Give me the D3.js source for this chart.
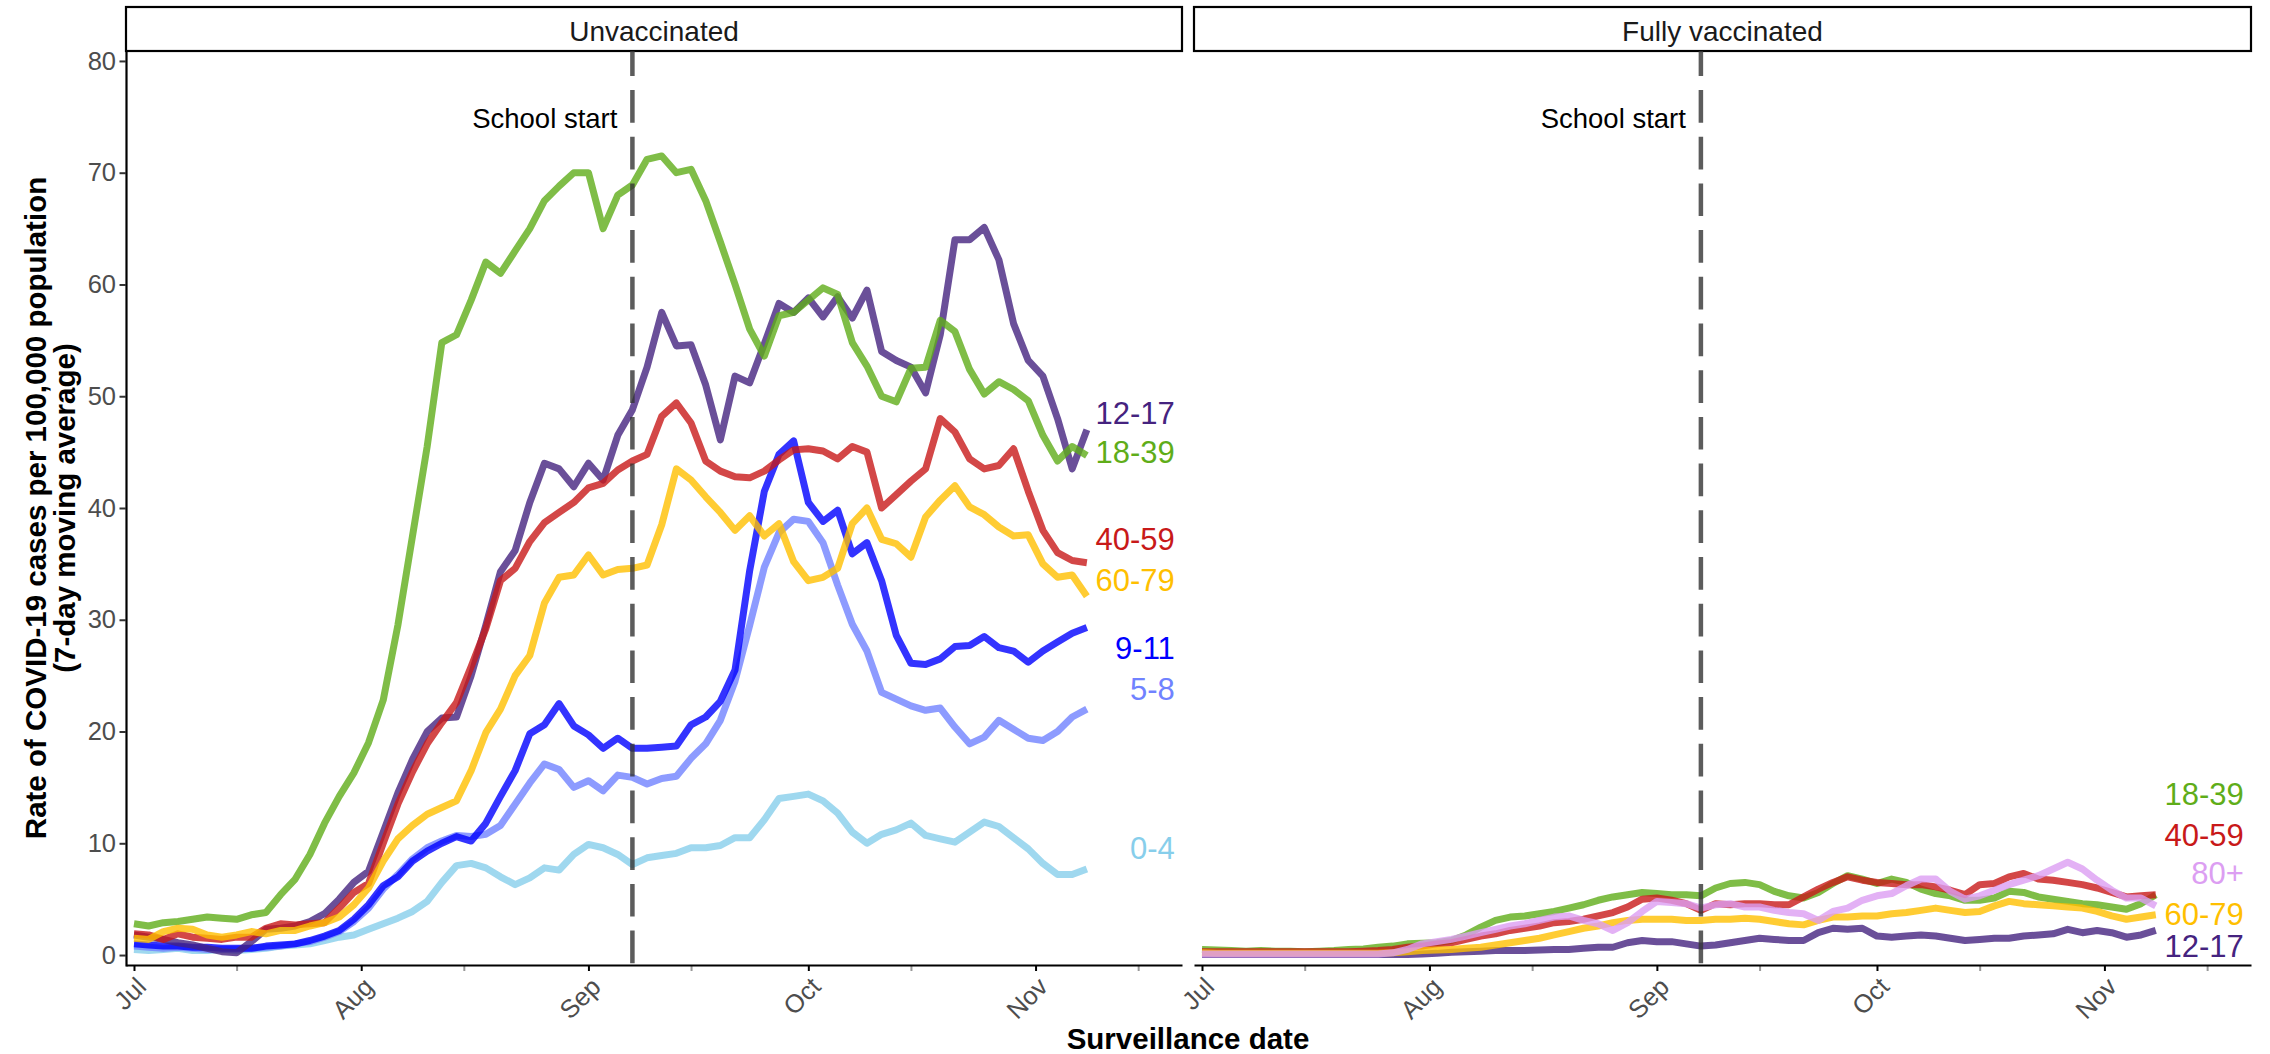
<!DOCTYPE html>
<html><head><meta charset="utf-8">
<script src="https://cdn.jsdelivr.net/npm/d3@7"></script>
<style>
body{margin:0;background:#fff}
svg{display:block}
text{font-family:"Liberation Sans",Arial,Helvetica,sans-serif}
</style>
</head><body>
<svg id="chart" width="2270" height="1054"></svg>
<script>
// ---------- DATA ----------
// day offsets from 2021-07-01 (every second day)
const dayOffsets = d3.range(0, 131, 2);

const ageGroups = ["0-4","5-8","9-11","12-17","18-39","40-59","60-79","80+"];
const ageColors = ["#87CEEB","#7082FF","#0000FF","#45237F","#5FAD19","#C81919","#FFBF00","#DC9EF2"];

// Unvaccinated
const unvax_0_4   = [0.5,0.4,0.5,0.6,0.4,0.4,0.5,0.4,0.5,0.6,0.8,0.9,1.0,1.3,1.6,1.8,2.3,2.8,3.3,3.9,4.8,6.5,8.0,8.2,7.8,7.0,6.3,6.9,7.8,7.6,9.0,9.9,9.6,9.0,8.1,8.7,8.9,9.1,9.6,9.6,9.8,10.5,10.5,12.1,14.0,14.2,14.4,13.8,12.7,11.0,10.0,10.8,11.2,11.8,10.7,10.4,10.1,11.0,11.9,11.5,10.5,9.5,8.2,7.2,7.2,7.7];
const unvax_5_8   = [0.8,0.7,0.6,0.7,0.6,0.5,0.5,0.5,0.6,0.7,0.8,1.0,1.2,1.6,2.1,3.0,4.2,5.9,7.2,8.6,9.6,10.2,10.7,10.6,10.8,11.6,13.5,15.4,17.1,16.6,15.0,15.6,14.7,16.1,15.9,15.3,15.8,16.0,17.6,18.9,21.0,24.5,29.5,34.7,37.8,39.0,38.8,36.9,33.1,29.6,27.2,23.5,22.9,22.3,21.9,22.1,20.4,18.9,19.5,21.0,20.2,19.4,19.2,20.0,21.3,22.0];
const unvax_9_11  = [1.0,0.9,0.8,0.8,0.7,0.7,0.6,0.6,0.6,0.8,0.9,1.0,1.3,1.7,2.2,3.2,4.5,6.2,7.0,8.4,9.3,10.0,10.6,10.2,11.8,14.2,16.5,19.8,20.6,22.5,20.5,19.7,18.5,19.4,18.5,18.5,18.6,18.7,20.6,21.3,22.7,25.5,34.4,41.5,44.8,46.0,40.5,38.8,39.8,35.9,36.9,33.5,28.6,26.1,26.0,26.5,27.6,27.7,28.5,27.5,27.2,26.2,27.2,28.0,28.8,29.3];
const unvax_12_17 = [1.8,1.6,1.4,1.1,0.9,0.6,0.3,0.2,1.2,2.3,2.4,2.6,3.0,3.7,5.0,6.5,7.5,11.0,14.5,17.5,20.0,21.2,21.3,25.0,29.5,34.3,36.2,40.5,44.0,43.5,41.9,44.0,42.5,46.5,48.8,52.6,57.5,54.5,54.6,51.0,46.1,51.8,51.2,54.7,58.3,57.5,58.8,57.1,58.9,57.0,59.5,54.0,53.2,52.6,50.3,55.5,64.0,64.0,65.1,62.2,56.5,53.2,51.8,48.0,43.5,47.0];
const unvax_18_39 = [2.8,2.6,2.9,3.0,3.2,3.4,3.3,3.2,3.6,3.8,5.4,6.8,9.0,11.8,14.2,16.3,19.0,22.8,29.5,37.5,45.5,54.8,55.5,58.6,62.0,61.0,63.0,65.0,67.5,68.8,70.0,70.0,65.0,68.0,68.9,71.2,71.5,70.0,70.3,67.5,63.8,60.0,56.0,53.6,57.2,57.5,58.6,59.7,59.1,54.8,52.7,50.0,49.5,52.5,52.6,56.8,55.8,52.4,50.2,51.3,50.6,49.6,46.5,44.2,45.5,44.7];
const unvax_40_59 = [1.9,1.8,1.4,1.9,1.6,1.5,1.4,1.6,1.6,2.4,2.8,2.7,2.8,2.9,4.2,5.6,6.4,10.0,13.5,16.4,18.9,20.8,22.6,25.8,29.2,33.5,34.6,37.0,38.7,39.6,40.5,41.8,42.2,43.4,44.2,44.8,48.2,49.4,47.6,44.2,43.3,42.8,42.7,43.3,44.3,45.2,45.3,45.1,44.4,45.5,45.0,40.0,41.2,42.4,43.5,48.0,46.8,44.4,43.5,43.8,45.3,41.5,38.0,36.0,35.3,35.1];
const unvax_60_79 = [1.5,1.4,2.1,2.4,2.3,1.8,1.6,1.8,2.1,1.9,2.2,2.2,2.6,2.9,3.4,4.5,6.0,8.4,10.4,11.6,12.6,13.2,13.8,16.5,19.9,22.0,25.0,26.8,31.5,33.8,34.0,35.8,34.0,34.5,34.6,34.9,38.5,43.5,42.5,41.0,39.6,38.0,39.3,37.5,38.6,35.2,33.5,33.8,34.6,38.6,40.0,37.2,36.8,35.6,39.2,40.7,42.0,40.1,39.4,38.3,37.5,37.6,35.0,33.8,34.0,32.1];

// Fully vaccinated
const vax_12_17 = [0.05,0.05,0.05,0.05,0.05,0.05,0.05,0.05,0.05,0.05,0.05,0.05,0.05,0.05,0.05,0.1,0.15,0.25,0.3,0.35,0.4,0.4,0.4,0.45,0.5,0.5,0.6,0.7,0.7,1.1,1.3,1.2,1.2,1.0,0.8,0.9,1.1,1.3,1.5,1.4,1.3,1.3,2.0,2.4,2.3,2.4,1.7,1.6,1.7,1.8,1.7,1.5,1.3,1.4,1.5,1.5,1.7,1.8,1.9,2.3,2.0,2.2,2.0,1.6,1.8,2.2];
const vax_18_39 = [0.5,0.45,0.4,0.35,0.4,0.35,0.35,0.3,0.35,0.4,0.5,0.55,0.7,0.8,1.0,1.05,1.1,1.3,1.8,2.5,3.1,3.4,3.5,3.7,3.9,4.2,4.5,4.9,5.2,5.4,5.6,5.5,5.4,5.4,5.3,6.0,6.4,6.5,6.3,5.7,5.3,5.1,5.6,6.4,7.1,6.8,6.4,6.8,6.5,5.9,5.5,5.3,4.9,4.9,5.1,5.7,5.6,5.2,5.0,4.8,4.6,4.5,4.3,4.1,4.6,5.4];
const vax_40_59 = [0.3,0.3,0.3,0.3,0.3,0.3,0.3,0.3,0.3,0.3,0.3,0.35,0.4,0.5,0.7,0.8,1.0,1.1,1.4,1.7,1.9,2.2,2.4,2.6,2.9,3.0,3.2,3.5,3.8,4.3,5.0,5.1,4.9,4.6,4.0,4.6,4.5,4.6,4.6,4.5,4.5,5.2,5.9,6.5,7.0,6.7,6.5,6.4,6.3,6.3,6.1,5.8,5.4,6.3,6.4,7.0,7.3,6.8,6.7,6.5,6.3,6.0,5.6,5.2,5.3,5.4];
const vax_60_79 = [0.2,0.15,0.15,0.15,0.15,0.15,0.15,0.15,0.15,0.15,0.15,0.15,0.15,0.2,0.3,0.4,0.45,0.5,0.6,0.7,0.9,1.1,1.3,1.5,1.8,2.1,2.4,2.6,2.9,3.1,3.2,3.2,3.2,3.1,3.1,3.2,3.2,3.3,3.2,3.0,2.8,2.7,3.1,3.4,3.4,3.5,3.5,3.7,3.8,4.0,4.2,4.0,3.8,3.9,4.4,4.8,4.6,4.5,4.4,4.3,4.2,3.9,3.5,3.2,3.4,3.6];
const vax_80p   = [0.1,0.1,0.1,0.1,0.1,0.1,0.1,0.1,0.1,0.1,0.1,0.1,0.1,0.2,0.5,1.0,1.2,1.4,1.7,2.0,2.3,2.6,2.8,3.1,3.4,3.5,3.1,2.8,2.2,2.9,3.9,4.8,4.7,4.6,4.2,4.5,4.6,4.3,4.3,4.0,3.8,3.7,3.1,3.9,4.2,4.9,5.3,5.5,6.2,6.8,6.8,5.7,5.0,5.3,5.8,6.3,6.7,7.1,7.7,8.3,7.7,6.7,5.8,5.1,5.1,4.4];

// end-of-line label heights (data units)
const unvaxLabelY = {"0-4":9.55,"5-8":23.8,"9-11":27.5,"12-17":48.5,"18-39":45.0,"40-59":37.2,"60-79":33.6};
const vaxLabelY   = {"12-17":0.8,"18-39":14.4,"40-59":10.8,"60-79":3.65,"80+":7.4};

const monthTicks = ["2021-07-01","2021-08-01","2021-09-01","2021-10-01","2021-11-01"];
const midTicks   = ["2021-07-15","2021-08-15","2021-09-15","2021-10-15","2021-11-15"];
const yTicks = [0,10,20,30,40,50,60,70,80];
const schoolStart = "2021-09-07";
const panelNames = ["Unvaccinated","Fully vaccinated"];

// ---------- BUILD ----------
const DAY = 864e5, T0 = Date.UTC(2021,6,1);
const toDate = d => new Date(T0 + d*DAY);
const parse = s => new Date(s + "T00:00:00Z");

const panels = [
  {name: panelNames[0], x0:126, x1:1182, showY:true,
   series: [["0-4",unvax_0_4],["5-8",unvax_5_8],["9-11",unvax_9_11],["12-17",unvax_12_17],["18-39",unvax_18_39],["40-59",unvax_40_59],["60-79",unvax_60_79]],
   labels: unvaxLabelY},
  {name: panelNames[1], x0:1194, x1:2251, showY:false,
   series: [["12-17",vax_12_17],["18-39",vax_18_39],["40-59",vax_40_59],["60-79",vax_60_79],["80+",vax_80p]],
   labels: vaxLabelY}
];
const color = d3.scaleOrdinal().domain(ageGroups).range(ageColors);

const svg = d3.select("#chart");
const yTop = 51, yBot = 966;
const y = d3.scaleLinear().domain([-0.98, 80.89]).range([yBot, yTop]);

panels.forEach(p => {
  const x = d3.scaleUtc().domain([toDate(-1.09), toDate(142.98)]).range([p.x0, p.x1]);
  const g = svg.append("g");

  // strip
  g.append("rect").attr("x", p.x0).attr("y", 7).attr("width", p.x1 - p.x0).attr("height", yTop - 7)
    .attr("fill", "#fff").attr("stroke", "#000").attr("stroke-width", 2.2);
  g.append("text").attr("x", (p.x0 + p.x1)/2).attr("y", 40.5).attr("text-anchor","middle")
    .attr("font-size", 28).attr("fill","#1A1A1A").text(p.name);

  // lines
  const line = d3.line().x(d => x(d.date)).y(d => y(d.v));
  const sorted = p.series.slice().sort((a,b) => ageGroups.indexOf(a[0]) - ageGroups.indexOf(b[0]));
  sorted.forEach(([grp, vals]) => {
    const pts = vals.map((v,i) => ({date: toDate(dayOffsets[i]), v}));
    g.append("path").datum(pts).attr("d", line)
      .attr("fill","none").attr("stroke", color(grp)).attr("stroke-opacity", 0.8)
      .attr("stroke-width", 7).attr("stroke-linejoin","round");
  });

  // school start line
  const xs = x(parse(schoolStart));
  g.append("line").attr("x1", xs).attr("x2", xs).attr("y1", yTop).attr("y2", yBot)
    .attr("stroke", "#333").attr("stroke-opacity", 0.8).attr("stroke-width", 4.5)
    .attr("stroke-dasharray", "32.7 14").attr("stroke-dashoffset", 7.7);
  g.append("text").attr("x", xs - 15).attr("y", 128).attr("text-anchor","end")
    .attr("font-size", 27.5).attr("fill","#000").text("School start");

  // end labels
  Object.entries(p.labels).forEach(([grp, v]) => {
    g.append("text").attr("x", x(toDate(142))).attr("y", y(v)).attr("dy","0.36em")
      .attr("text-anchor","end").attr("font-size", 31).attr("fill", color(grp)).text(grp);
  });

  // x axis (minor then major)
  const minor = g.append("g").attr("transform", `translate(0,965)`)
    .call(d3.axisBottom(x).tickValues(midTicks.map(parse)).tickFormat("").tickSize(6).tickSizeOuter(0));
  minor.select(".domain").remove();
  minor.selectAll(".tick line").attr("stroke","#999").attr("stroke-width",2);

  const xa = g.append("g").attr("transform", `translate(0,965)`)
    .call(d3.axisBottom(x).tickValues(monthTicks.map(parse)).tickFormat(d3.utcFormat("%b")).tickSize(6).tickSizeOuter(0));
  xa.select(".domain").attr("stroke","#000").attr("stroke-width",2.2);
  xa.selectAll(".tick line").attr("stroke","#000").attr("stroke-width",2);
  xa.selectAll(".tick text").attr("x",0).attr("y",0).attr("dy","0.74em")
    .attr("transform","translate(0,10) rotate(-45)").attr("text-anchor","end")
    .attr("font-size",25.5).attr("fill","#4D4D4D")
    .attr("font-family",'"Liberation Sans",Arial,sans-serif');

  if (p.showY) {
    const ya = g.append("g").attr("transform", `translate(${p.x0},0)`)
      .call(d3.axisLeft(y).tickValues(yTicks).tickSize(6.5).tickPadding(3.5).tickSizeOuter(0));
    ya.select(".domain").attr("stroke","#000").attr("stroke-width",2.2);
    ya.selectAll(".tick line").attr("stroke","#333").attr("stroke-width",2);
    ya.selectAll(".tick text").attr("font-size",25.5).attr("fill","#4D4D4D")
      .attr("font-family",'"Liberation Sans",Arial,sans-serif');
  }
});

// axis titles
svg.append("text").attr("x", 1188).attr("y", 1049).attr("text-anchor","middle")
  .attr("font-size", 29.5).attr("font-weight","bold").attr("fill","#000").text("Surveillance date");
const yt = svg.append("text").attr("transform","translate(46,508) rotate(-90)")
  .attr("text-anchor","middle").attr("font-size", 29.5).attr("font-weight","bold").attr("fill","#000");
yt.append("tspan").attr("x",0).attr("y",0).text("Rate of COVID-19 cases per 100,000 population");
yt.append("tspan").attr("x",0).attr("y",29).text("(7-day moving average)");
</script>
</body></html>
